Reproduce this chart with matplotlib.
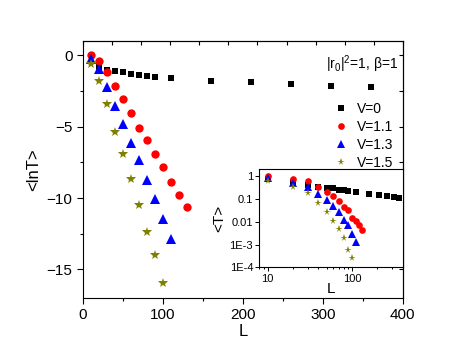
import numpy as np
import matplotlib
matplotlib.use("Agg")
import matplotlib.pyplot as plt
from matplotlib.ticker import MultipleLocator, FixedLocator, NullFormatter

plt.rcParams["font.family"] = ["Liberation Sans", "DejaVu Sans"]
plt.rcParams["mathtext.fontset"] = "custom"
plt.rcParams["mathtext.rm"] = "Liberation Sans"
plt.rcParams["mathtext.it"] = "Liberation Sans"

# ---- main panel: <lnT> vs L ----
L_v0 = [20, 30, 40, 50, 60, 70, 80, 90, 110, 160, 210, 260, 310, 360]
lnT_v0 = [-0.82, -1.03, -1.12, -1.19, -1.28, -1.35, -1.45, -1.52, -1.59, -1.80, -1.89, -1.98, -2.15, -2.24]

L_v11 = [10, 20, 30, 40, 50, 60, 70, 80, 90, 100, 110, 120, 130]
lnT_v11 = [0.0, -0.4, -1.14, -2.15, -3.08, -4.04, -5.07, -5.93, -6.93, -7.8, -8.87, -9.8, -10.64]

L_v13 = [10, 20, 30, 40, 50, 60, 70, 80, 90, 100, 110]
lnT_v13 = [-0.23, -0.98, -2.19, -3.55, -4.79, -6.12, -7.37, -8.75, -10.1, -11.5, -12.84]

L_v15 = [10, 20, 30, 40, 50, 60, 70, 80, 90, 100]
lnT_v15 = [-0.58, -1.8, -3.43, -5.37, -6.93, -8.66, -10.5, -12.37, -14.0, -15.92]

# ---- inset: <T> vs L (log-log) ----
Li_v0 = [10, 20, 30, 40, 50, 60, 70, 80, 90, 110, 160, 210, 260, 310, 360]
T_v0 = [0.75, 0.55, 0.42, 0.34, 0.31, 0.29, 0.26, 0.24, 0.22, 0.195, 0.165, 0.148, 0.134, 0.12, 0.11]

Li_v11 = [10, 20, 30, 40, 50, 60, 70, 80, 90, 100, 110, 120, 130]
T_v11 = [0.97, 0.77, 0.59, 0.35, 0.21, 0.13, 0.079, 0.044, 0.032, 0.015, 0.011, 0.0075, 0.0043]

Li_v13 = [10, 20, 30, 40, 50, 60, 70, 80, 90, 100, 110]
T_v13 = [0.82, 0.51, 0.33, 0.17, 0.093, 0.048, 0.027, 0.0117, 0.0075, 0.003, 0.0013]

Li_v15 = [10, 20, 30, 40, 50, 60, 70, 80, 90, 100]
T_v15 = [0.6, 0.35, 0.18, 0.069, 0.027, 0.0105, 0.0046, 0.0019, 5.7e-4, 2.6e-4]

labels = ["V=0", "V=1.1", "V=1.3", "V=1.5"]
colors = ["black", "#ff0000", "#0000ff", "#808000"]
markers = ["s", "o", "^", "*"]
msizes = [4.6, 6.0, 6.5, 7.0]

fig = plt.figure(figsize=(4.69, 3.58), dpi=100)
ax = fig.add_axes([0.177, 0.1676, 0.682, 0.718])

main_sets = [(L_v0, lnT_v0), (L_v11, lnT_v11), (L_v13, lnT_v13), (L_v15, lnT_v15)]
for (x, y), lab, c, m, s in zip(main_sets, labels, colors, markers, msizes):
    ax.plot(x, y, linestyle="None", marker=m, color=c, markersize=s,
            markeredgewidth=0, label=lab)

ax.set_xlim(0, 400)
ax.set_ylim(-17, 1)
ax.xaxis.set_major_locator(MultipleLocator(100))
ax.xaxis.set_minor_locator(MultipleLocator(50))
ax.yaxis.set_major_locator(MultipleLocator(5))
ax.yaxis.set_minor_locator(MultipleLocator(2.5))
ax.tick_params(which="both", direction="out", labelsize=11, width=0.8)
ax.tick_params(which="major", length=4)
ax.tick_params(which="minor", length=2.5)
ax.set_xlabel("L", fontsize=12, labelpad=1)
ax.set_ylabel("<lnT>", fontsize=12, labelpad=4)

# inward ticks on top and right
axt = ax.secondary_xaxis("top")
axt.xaxis.set_major_locator(FixedLocator(np.linspace(0, 400, 12)))
axt.xaxis.set_major_formatter(NullFormatter())
axt.tick_params(direction="in", length=3, width=0.8)
axr = ax.secondary_yaxis("right")
axr.yaxis.set_major_locator(MultipleLocator(2.5))
axr.yaxis.set_major_formatter(NullFormatter())
axr.tick_params(direction="in", length=3, width=0.8)

ax.text(0.985, 0.95, r"$|r_0|^2$=1, β=1", transform=ax.transAxes,
        ha="right", va="top", fontsize=10)

leg = ax.legend(loc="upper right", bbox_to_anchor=(1.0, 0.80), frameon=False,
                fontsize=10, handlelength=0.8, handletextpad=0.7,
                labelspacing=0.28, borderaxespad=0.3, markerscale=0.8)

# inset
ins = fig.add_axes([0.553, 0.2534, 0.306, 0.2736])
inset_sets = [(Li_v0, T_v0), (Li_v11, T_v11), (Li_v13, T_v13), (Li_v15, T_v15)]
for (x, y), c, m, s in zip(inset_sets, colors, markers, msizes):
    ins.plot(x, y, linestyle="None", marker=m, color=c, markersize=s * 0.8,
             markeredgewidth=0)
ins.set_xscale("log")
ins.set_yscale("log")
ins.set_xlim(8, 400)
ins.set_ylim(1e-4, 2)
ins.set_xticks([10, 100])
ins.set_xticklabels(["10", "100"])
ins.set_yticks([1, 0.1, 0.01, 1e-3, 1e-4])
ins.set_yticklabels(["1", "0.1", "0.01", "1E-3", "1E-4"])
ins.yaxis.set_minor_locator(FixedLocator([]))
ins.tick_params(which="both", direction="out", labelsize=8, width=0.7, pad=1.5)
ins.tick_params(which="major", length=3)
ins.tick_params(which="minor", length=1.5)
ins.set_xlabel("L", fontsize=11, labelpad=-1)
ins.set_ylabel("<T>", fontsize=11, labelpad=2)

fig.savefig("out.png", dpi=100)
